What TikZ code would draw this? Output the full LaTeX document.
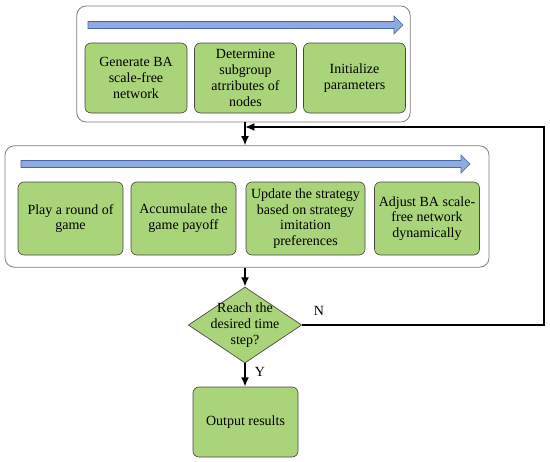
\documentclass[tikz,border=0pt]{standalone}
\usepackage{fontspec}
\setmainfont{Liberation Serif}
\definecolor{stepgreen}{RGB}{170,212,122}
\definecolor{stepedge}{RGB}{70,70,70}
\definecolor{bandblue}{RGB}{143,170,220}
\definecolor{bandedge}{RGB}{68,104,170}
\definecolor{framegray}{RGB}{125,125,125}
\usetikzlibrary{positioning, arrows.meta, shapes.geometric}
% wide blue direction arrow: start x, end x, centre y
\newcommand{\bandarrow}[3]{%
  \draw[bandedge,fill=bandblue,line width=0.5pt] (#1,#3-3.5) -- (#2-9,#3-3.5) -- (#2-9,#3-9) -- (#2,#3)
    -- (#2-9,#3+9) -- (#2-9,#3+3.5) -- (#1,#3+3.5) -- cycle;}

\begin{document}
\begin{tikzpicture}[x=0.75pt, y=-0.75pt, every node/.style={font=\fontsize{10.5pt}{11.8pt}\selectfont},
    stage/.style={draw=framegray, fill=white, rounded corners=7pt, line width=0.6pt, inner sep=0pt},
    stepbox/.style={draw=stepedge, fill=stepgreen, rounded corners=4.5pt, line width=0.5pt, align=center, inner sep=1pt},
    decision/.style={diamond, draw=stepedge, fill=stepgreen, line width=0.5pt, inner sep=0pt, minimum width=85pt, minimum height=57pt},
    flow/.style={line width=1.3pt, -{Latex[length=7pt,width=6pt]}}]
        \useasboundingbox (0,0) rectangle (550,461);
        % initialisation stage
        \node[stage, minimum width=250pt, minimum height=87pt] (stage1) at (243.5,64) {};
        \bandarrow{88}{403}{25}
        \node[stepbox, minimum width=76.5pt, minimum height=52.5pt] (gen) at (136,78) {Generate BA\\scale-free\\network};
        \node[stepbox, minimum width=76.5pt, minimum height=52.5pt] (attr) at (245.5,78) {Determine\\subgroup\\atrributes of\\nodes};
        \node[stepbox, minimum width=76.5pt, minimum height=52.5pt] (init) at (354.5,78) {Initialize\\parameters};
        % evolution stage
        \node[stage, minimum width=363pt, minimum height=91pt] (stage2) at (247,206.5) {};
        \bandarrow{21}{470}{164}
        \node[stepbox, minimum width=78.75pt, minimum height=54.75pt] (play) at (70.5,218.5) {Play a round of\\game};
        \node[stepbox, minimum width=78.75pt, minimum height=54.75pt] (payoff) at (183.5,218.5) {Accumulate the\\game payoff};
        \node[stepbox, minimum width=89.25pt, minimum height=54.75pt] (update) at (305.5,218.5) {Update the strategy\\based on strategy\\imitation\\preferences};
        \node[stepbox, minimum width=78.75pt, minimum height=54.75pt] (adjust) at (427,218.5) {Adjust BA scale-\\free network\\dynamically};
        % check and output
        \node[decision, label={[align=center]center:Reach the\\desired time\\step?}] (check) at (245,325) {};
        \node[stepbox, minimum width=78.75pt, minimum height=52.5pt] (result) at (245.5,422) {Output results};
        \coordinate (back) at (544,127);
        \coordinate (join) at (245,127);
        \draw[flow] (stage1.south -| check) -- (stage2.north -| check);
        \draw[flow] (stage2.south -| check) -- (check.north);
        \draw[flow] (check.south) -- (result.north -| check);
        \draw[flow] (check.east) -| (back) -- (join);
        \node (nlab) at (319,311) {N};
        \node (ylab) at (260,372) {Y};
      \end{tikzpicture}
\end{document}
